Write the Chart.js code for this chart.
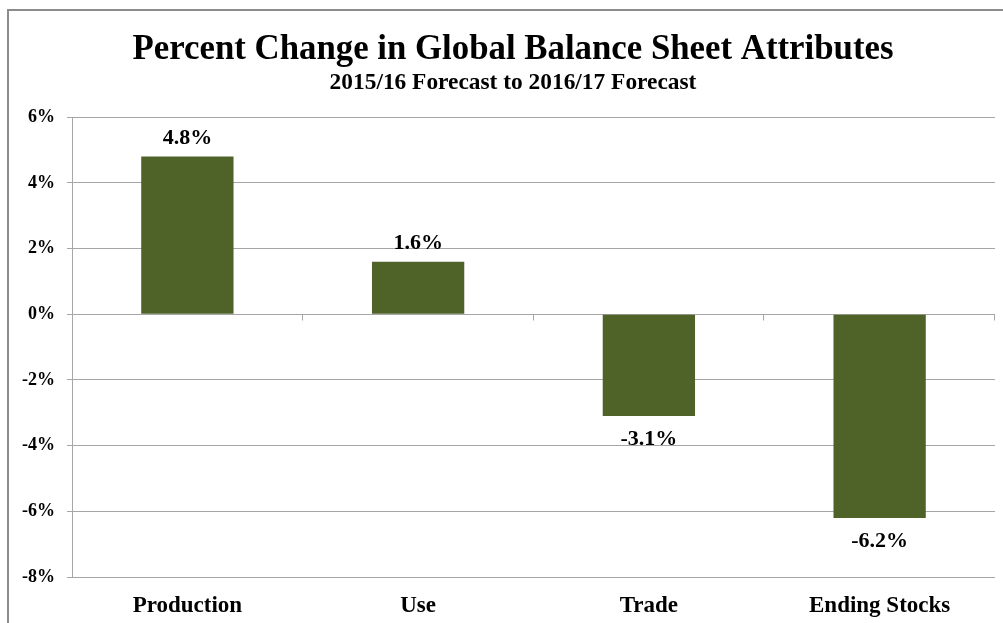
<!DOCTYPE html>
<html>
<head>
<meta charset="utf-8">
<script src="https://cdn.jsdelivr.net/npm/chart.js@4"></script>
<style>
    html, body { margin: 0; padding: 0; background: #fff; overflow: hidden; }
    #frame { position: absolute; left: 7px; top: 9px; width: 1100px; height: 700px;
             border-left: 2px solid #8c8c8c; border-top: 2px solid #8c8c8c; }
    #wrap { position: absolute; left: 0; top: 0; width: 1013px; height: 623px; }
</style>
</head>
<body>
<div id="frame"></div>
<div id="wrap"><canvas id="balanceChart" width="1013" height="623"></canvas></div>
<script>
const categories = ["Production", "Use", "Trade", "Ending Stocks"];
const pctChange = [4.8, 1.6, -3.1, -6.2];
const tickValues = [6, 4, 2, 0, -2, -4, -6, -8];

const serif = "'Liberation Serif', 'Times New Roman', serif";
const gridGrey = "#a6a6a6";

// value labels above / below each bar
const barLabels = {
    id: "barLabels",
    afterDatasetsDraw(chart) {
        const ctx = chart.ctx;
        const meta = chart.getDatasetMeta(0);
        ctx.save();
        ctx.font = "bold 22px " + serif;
        ctx.fillStyle = "#000";
        ctx.textAlign = "center";
        ctx.textBaseline = "alphabetic";
        meta.data.forEach((bar, i) => {
            const v = pctChange[i];
            const y = v >= 0 ? bar.y - 13 : bar.y + 29;
            ctx.fillText(v.toFixed(1) + "%", bar.x, y);
        });
        ctx.restore();
    }
};

// category tick marks hanging off the zero line
const zeroTicks = {
    id: "zeroTicks",
    afterDraw(chart) {
        const ctx = chart.ctx;
        const x = chart.scales.x;
        const y0 = Math.round(chart.scales.y.getPixelForValue(0)) + 0.5;
        ctx.save();
        ctx.strokeStyle = gridGrey;
        ctx.lineWidth = 1;
        ctx.beginPath();
        for (let i = 1; i <= categories.length; i++) {
            const px = Math.round(x.getPixelForValue(i - 0.5)) - 0.5;
            ctx.moveTo(px, y0);
            ctx.lineTo(px, y0 + 6);
        }
        ctx.stroke();
        ctx.restore();
    }
};

new Chart(document.getElementById("balanceChart"), {
    type: "bar",
    data: {
        labels: categories,
        datasets: [{
            data: pctChange,
            backgroundColor: "#4f6228",
            borderWidth: 0,
            barPercentage: 0.4,
            categoryPercentage: 1.0
        }]
    },
    options: {
        responsive: false,
        animation: false,
        layout: { padding: { top: 29, left: 21, right: 8, bottom: 0 } },
        plugins: {
            legend: { display: false },
            tooltip: { enabled: false },
            title: {
                display: true,
                text: "Percent Change in Global Balance Sheet Attributes",
                color: "#000",
                font: { family: serif, size: 34.8, weight: "bold", lineHeight: 1.2 },
                padding: { top: 0, bottom: 0 }
            },
            subtitle: {
                display: true,
                text: "2015/16 Forecast to 2016/17 Forecast",
                color: "#000",
                font: { family: serif, size: 23.4, weight: "bold", lineHeight: 1.0 },
                padding: { top: 0, bottom: 23 }
            }
        },
        scales: {
            x: {
                grid: { display: false, drawTicks: false },
                border: { display: false },
                ticks: {
                    color: "#000",
                    padding: 15,
                    font: { family: serif, size: 23, weight: "bold" }
                },
                afterFit(scale) { scale.height = 46; }
            },
            y: {
                min: -8,
                max: 6,
                afterBuildTicks(scale) {
                    scale.ticks = tickValues.map(v => ({ value: v }));
                },
                grid: { color: gridGrey, tickLength: 5, lineWidth: 1 },
                border: { display: true, color: gridGrey },
                ticks: {
                    color: "#000",
                    padding: 12,
                    font: { family: serif, size: 18, weight: "bold" },
                    callback: v => v + "%"
                },
                afterFit(scale) { scale.width = 51; }
            },
            // empty spacer on the right so the title centres like the original
            spacer: {
                type: "linear",
                position: "right",
                grid: { display: false, drawTicks: false },
                border: { display: false },
                ticks: { display: false },
                afterFit(scale) { scale.width = 10; }
            }
        }
    },
    plugins: [barLabels, zeroTicks]
});
</script>
</body>
</html>
